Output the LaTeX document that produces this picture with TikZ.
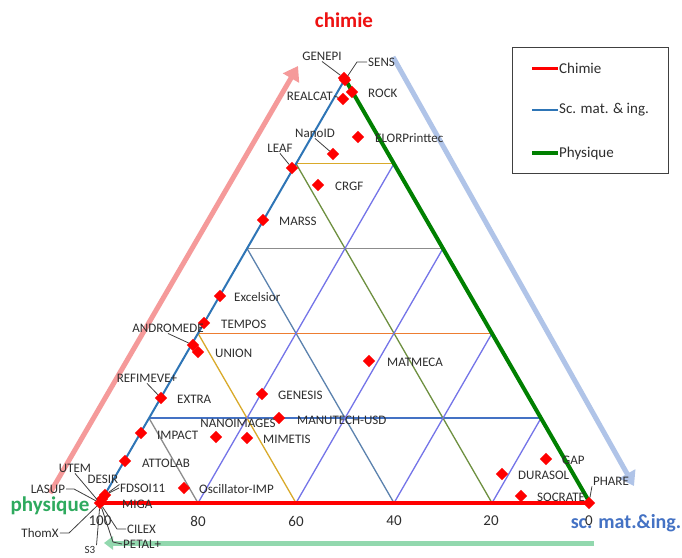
\documentclass[tikz,border=0pt]{standalone}
\usepackage{fontspec}
\setmainfont{Carlito}
\usetikzlibrary{shapes.geometric,arrows.meta}
\definecolor{labgray}{HTML}{2E2E2E}
\definecolor{leadgray}{HTML}{404040}
\definecolor{sideblue}{HTML}{2E75B6}
\definecolor{sidegreen}{HTML}{008000}
\definecolor{gblue}{HTML}{4472C4}
\definecolor{gorange}{HTML}{ED7D31}
\definecolor{ggray}{HTML}{8C8C8C}
\definecolor{ggold}{HTML}{D9AA2A}
\definecolor{gsteel}{HTML}{5B82AE}
\definecolor{golive}{HTML}{6E9040}
\definecolor{gviolet}{HTML}{7474E8}
\definecolor{apink}{HTML}{F59A9A}
\definecolor{ablue}{HTML}{B0C4E8}
\definecolor{agreen}{HTML}{92D8AE}
\definecolor{tred}{HTML}{EE1111}
\definecolor{tgreen}{HTML}{2EAA5E}
\definecolor{tblue}{HTML}{4472C4}
\begin{document}
\begin{tikzpicture}[x=1pt,y=-1pt,
  dmd/.style={diamond, fill=red, inner sep=0pt, minimum size=12.5pt},
  lab/.style={font=\fontsize{13}{15}\selectfont, text=labgray, inner sep=1pt},
  lead/.style={draw=leadgray, line width=0.8pt},
  gl/.style={line width=1.3pt},
  ax/.style={font=\fontsize{15}{17}\selectfont, text=labgray, inner sep=1pt},
  ttl/.style={font=\fontsize{21}{24}\selectfont\bfseries, inner sep=1pt},
  leg/.style={font=\fontsize{15}{17}\selectfont, text=labgray, inner sep=1pt, anchor=west}]
\useasboundingbox (0,0) rectangle (682,557);
\fill[white] (0,0) rectangle (682,557);

% vertices
\coordinate (P) at (100,503);
\coordinate (S) at (590,503);
\coordinate (C) at (345,79);

% axis arrows
\coordinate (pinkA) at (50,493);
\coordinate (pinkB) at (298,66);
\coordinate (blueA) at (393,57);
\coordinate (blueB) at (634,486);
\coordinate (greenA) at (594,543);
\coordinate (greenB) at (104,543);
\draw[apink, line width=5pt, -{Triangle[length=14pt,width=18pt]}] (pinkA) -- (pinkB);
\draw[ablue, line width=5pt, -{Triangle[length=14pt,width=18pt]}] (blueA) -- (blueB);
\draw[agreen, line width=5pt, -{Triangle[length=9pt,width=13pt]}] (greenA) -- (greenB);

% horizontal grid lines
\draw[gl, gblue]   (149,418.1) -- (541,418.1);
\draw[gl, gorange] (198,333.3) -- (492,333.3);
\draw[gl, ggray]   (247,248.4) -- (443,248.4);
\draw[gl, ggold]   (296,163.6) -- (394,163.6);
% lines parallel to right side
\draw[gl, ggray]   (149,418.1) -- (198,503);
\draw[gl, ggold]   (198,333.3) -- (296,503);
\draw[gl, gsteel]  (247,248.4) -- (394,503);
\draw[gl, golive]  (296,163.6) -- (492,503);
% lines parallel to left side
\draw[gl, gviolet] (198,503) -- (394,163.6);
\draw[gl, gviolet] (296,503) -- (443,248.4);
\draw[gl, gviolet] (394,503) -- (492,333.3);
\draw[gl, gviolet] (492,503) -- (541,418.1);

% sides
\draw[sideblue, line width=2pt] (P) -- (C);
\draw[sidegreen, line width=4pt] (C) -- (S);
\draw[red, line width=3.5pt] (P) -- (S);

% titles
\node[ttl, text=tred] (tchimie) at (344,20) {chimie};
\node[ttl, text=tgreen] (tphys) at (50,506) {physique};
\node[ttl, text=tblue, font=\fontsize{20}{24}\selectfont\bfseries] (tsc) at (626,523) {sc. mat.\&ing.};

% axis numbers
\node[ax] (n100) at (100,521) {100};
\node[ax] (n80) at (198,521) {80};
\node[ax] (n60) at (296,521) {60};
\node[ax] (n40) at (394,521) {40};
\node[ax] (n20) at (491,521) {20};
\node[ax] (n0) at (589,521) {0};

% legend
\node[draw=black!75, line width=0.8pt, minimum width=156pt, minimum height=126pt, inner sep=0pt] (legend) at (590,110) {};
\coordinate (lg1a) at (532,68); \coordinate (lg1b) at (558,68);
\coordinate (lg2a) at (532,110); \coordinate (lg2b) at (558,110);
\coordinate (lg3a) at (532,153); \coordinate (lg3b) at (558,153);
\draw[red, line width=3pt] (lg1a) -- (lg1b);
\draw[sideblue, line width=1.5pt] (lg2a) -- (lg2b);
\draw[sidegreen, line width=3.5pt] (lg3a) -- (lg3b);
\node[leg] (leg1) at (lg1b) {Chimie};
\node[leg] (leg2) at (lg2b) {Sc. mat. \& ing.};
\node[leg] (leg3) at (lg3b) {Physique};

% diamonds
\node[dmd] (dSENS) at (345,80) {};
\node[dmd] (dGENEPI) at (344,78) {};
\node[dmd] (dROCK) at (352,92) {};
\node[dmd] (dREALCAT) at (343,99) {};
\node[dmd] (dNanoID) at (333,154) {};
\node[dmd] (dELOR) at (358,137) {};
\node[dmd] (dLEAF) at (292,168) {};
\node[dmd] (dCRGF) at (318,185) {};
\node[dmd] (dMARSS) at (263,220) {};
\node[dmd] (dExcelsior) at (220,296) {};
\node[dmd] (dTEMPOS) at (204,323) {};
\node[dmd] (dANDRO) at (193,345) {};
\node[dmd] (dUNION) at (198,352) {};
\node[dmd] (dREFI) at (161,398) {};
\node[dmd] (dGENESIS) at (262,394) {};
\node[dmd] (dMATMECA) at (369,361) {};
\node[dmd] (dMANU) at (279,418) {};
\node[dmd] (dIMPACT) at (141,433) {};
\node[dmd] (dNANO) at (216,437) {};
\node[dmd] (dMIMETIS) at (247,438) {};
\node[dmd] (dATTOLAB) at (125,461) {};
\node[dmd] (dOSC) at (184,488) {};
\node[dmd] (dGAP) at (546,459) {};
\node[dmd] (dDURASOL) at (502,474) {};
\node[dmd] (dSOCRATE) at (521,496) {};
\node[dmd] (dPHARE) at (589,503) {};
\node[dmd] (dDESIR) at (105,495) {};
\node[dmd] (dUTEM) at (102,499) {};
\node[dmd] (dMIGA) at (100,503) {};

% labels
\node[lab] (lGENEPI) at (322,56) {GENEPI};
\node[lab, anchor=west] (lSENS) at (367,62) {SENS};
\node[lab, anchor=west] (lROCK) at (367,93) {ROCK};
\node[lab, anchor=east] (lREALCAT) at (334,96) {REALCAT};
\node[lab] (lNanoID) at (315,133) {NanoID};
\node[lab, anchor=west] (lELOR) at (374,138) {ELORPrinttec};
\node[lab] (lLEAF) at (280,148) {LEAF};
\node[lab, anchor=west] (lCRGF) at (334,186) {CRGF};
\node[lab, anchor=west] (lMARSS) at (278,221) {MARSS};
\node[lab, anchor=west] (lExcelsior) at (233,297) {Excelsior};
\node[lab, anchor=west] (lTEMPOS) at (220,324) {TEMPOS};
\node[lab] (lANDRO) at (168,328) {ANDROMEDE};
\node[lab, anchor=west] (lUNION) at (214,353) {UNION};
\node[lab] (lREFI) at (147,378) {REFIMEVE+};
\node[lab, anchor=west] (lEXTRA) at (176,399) {EXTRA};
\node[lab, anchor=west] (lGENESIS) at (277,395) {GENESIS};
\node[lab, anchor=west] (lMATMECA) at (386,362) {MATMECA};
\node[lab] (lNANO) at (238,423) {NANOIMAGES};
\node[lab, anchor=west] (lMANU) at (296,420) {MANUTECH-USD};
\node[lab, anchor=west] (lIMPACT) at (156,435) {IMPACT};
\node[lab, anchor=west] (lMIMETIS) at (262,439) {MIMETIS};
\node[lab, anchor=west] (lATTOLAB) at (141,463) {ATTOLAB};
\node[lab, anchor=west] (lOSC) at (198,489) {Oscillator-IMP};
\node[lab, anchor=west] (lGAP) at (561,460) {GAP};
\node[lab, anchor=west] (lDURASOL) at (517,475) {DURASOL};
\node[lab, anchor=west] (lSOCRATE) at (536,497) {SOCRATE};
\node[lab] (lPHARE) at (611,481) {PHARE};
\node[lab] (lUTEM) at (75,468) {UTEM};
\node[lab] (lLASUP) at (48,489) {LASUP};
\node[lab] (lDESIR) at (103,479) {DESIR};
\node[lab, anchor=west] (lFDSOI) at (119,488) {FDSOI11};
\node[lab, anchor=west] (lMIGA) at (121,504) {MIGA};
\node[lab] (lThomX) at (40,533) {ThomX};
\node[lab, anchor=west] (lCILEX) at (126,529) {CILEX};
\node[lab, anchor=west] (lPETAL) at (122,544) {PETAL+};
\node[lab, font=\fontsize{11}{12}\selectfont] (lS3) at (90,550) {S3};

% leader lines
\coordinate (kSENS) at (357,62);
\coordinate (kLASUP) at (74,489);
\coordinate (kThomX) at (69,533);
\coordinate (kCILEX) at (117,529);
\coordinate (kPETAL) at (113,542);
\draw[lead] (lGENEPI.south) -- (dGENEPI);
\draw[lead] (lSENS.west) -- (kSENS) -- (dSENS);
\draw[lead] (lREALCAT.east) -- (dREALCAT);
\draw[lead] (lNanoID.south) -- (dNanoID);
\draw[lead] (lLEAF.south) -- (dLEAF);
\draw[lead] (lANDRO.south) -- (dANDRO);
\draw[lead] (lREFI.south) -- (dREFI);
\draw[lead] (lPHARE.south west) -- (dPHARE);
\draw[lead] (lUTEM.south) -- (dMIGA);
\draw[lead] (lLASUP.east) -- (kLASUP) -- (dMIGA);
\draw[lead] (lDESIR.south east) -- (dDESIR);
\draw[lead] (lFDSOI.west) -- (dDESIR);
\draw[lead] (lThomX.east) -- (kThomX) -- (dMIGA);
\draw[lead] (lCILEX.west) -- (kCILEX) -- (dMIGA);
\draw[lead] (lPETAL.west) -- (kPETAL) -- (dMIGA);
\draw[lead] (lS3.north east) -- (dMIGA);
\end{tikzpicture}
\end{document}
